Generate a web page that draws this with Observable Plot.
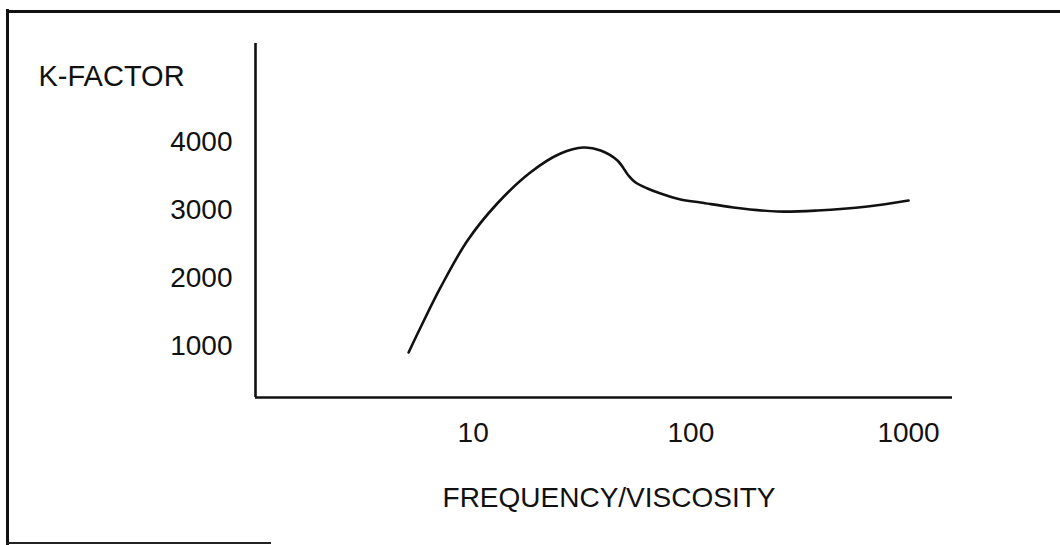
<!DOCTYPE html>
<html>
<head>
<meta charset="utf-8">
<script src="https://cdn.jsdelivr.net/npm/d3@7"></script>
<script src="https://cdn.jsdelivr.net/npm/@observablehq/plot@0.6"></script>
<style>
  html, body { margin: 0; padding: 0; background: #fff; }
  #wrap { position: relative; width: 1060px; height: 545px; overflow: hidden; }
  #wrap svg { position: absolute; left: 0; top: 0; }
  .frameL { position: absolute; left: 6px; top: 9px; width: 3px; height: 536px; background: #111; }
  .frameT { position: absolute; left: 6px; top: 10px; width: 1060px; height: 3px; background: #111; }
  .frameB { position: absolute; left: 6px; top: 542px; width: 265px; height: 2px; background: #222; }
</style>
</head>
<body>
<div id="wrap">
  <div class="frameL"></div>
  <div class="frameT"></div>
  <div class="frameB"></div>
</div>
<script>
// Frequency/viscosity (log scale) and K-factor values
const freq   = [5.05, 5.73, 7.08, 9.42, 12.9, 18.3, 25.2, 32.1, 38.5, 46.0, 51.7, 55.7, 63.2, 72.6, 89.7, 111, 157, 250, 382, 648, 1000];
const kFactor = [912, 1279, 1868, 2559, 3103, 3559, 3838, 3926, 3882, 3735, 3515, 3412, 3324, 3250, 3162, 3118, 3044, 2985, 3000, 3059, 3147];

const xTicks = [10, 100, 1000];
const yTicks = [1000, 2000, 3000, 4000];
const yTitle = "K-FACTOR";
const xTitle = "FREQUENCY/VISCOSITY";

const data = freq.map((f, i) => ({f, k: kFactor[i]}));

const chart = Plot.plot({
  width: 1060,
  height: 545,
  marginLeft: 255,
  marginRight: 108,
  marginTop: 43,
  marginBottom: 148,
  style: {fontFamily: "'Liberation Sans', Arial, Helvetica, sans-serif", fontSize: "28px", color: "#111", background: "transparent"},
  x: {type: "log", domain: [1, 1592]},
  y: {domain: [250, 5456]},
  marks: [
    Plot.axisX(xTicks, {tickSize: 0, tickPadding: 25, fontSize: 28, label: null, tickFormat: d => String(d)}),
    Plot.axisY(yTicks, {tickSize: 0, tickPadding: 23, fontSize: 28, label: null, tickFormat: d => String(d)}),
    Plot.ruleX([1], {stroke: "#111", strokeWidth: 2.6}),
    Plot.ruleY([250], {stroke: "#111", strokeWidth: 2.6}),
    Plot.line(data, {x: "f", y: "k", curve: "catmull-rom", stroke: "#111", strokeWidth: 2.6}),
    Plot.text([yTitle], {text: d => d, frameAnchor: "top-left", dx: -217, dy: 33, textAnchor: "start", lineAnchor: "middle", fontSize: 29, fill: "#111"}),
    Plot.text([xTitle], {text: d => d, frameAnchor: "bottom", dx: 5, dy: 101, lineAnchor: "middle", fontSize: 28, fill: "#111"})
  ]
});
document.getElementById("wrap").prepend(chart);
</script>
</body>
</html>
